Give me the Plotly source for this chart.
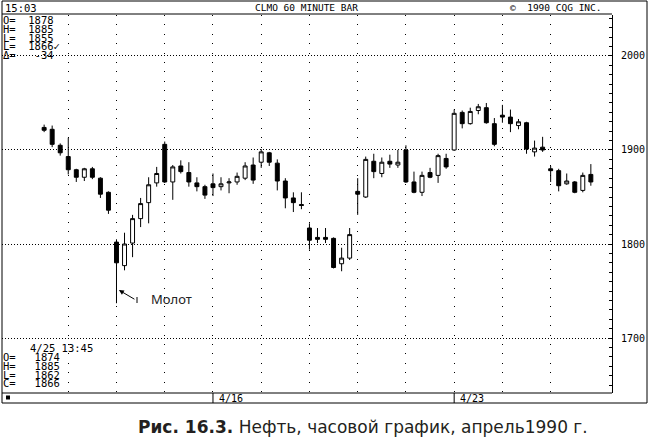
import plotly.graph_objects as go

# ---- data (hourly bars, April 1990 crude oil) ----
opens  = [1924,1922,1905,1893,1879,1871,1880,1870,1855,1802,1777,1801,1827,1844,1865,1906,1866,1883,1876,1865,
          1861,1864,1861,1865,1866,1870,1884,1887,1897,1886,1867,1849,1842,1817,1807,1807,1806,1779,1785,1856,
          1850,1888,1875,1888,1884,1900,1866,1855,1876,1873,1891,1900,1940,1928,1942,1945,1928,1937,1935,1926,
          1929,1898,1903,1880,1878,1864,1866,1857,1874]
highs  = [1927,1926,1907,1913,1880,1881,1882,1871,1856,1805,1812,1831,1849,1871,1882,1909,1884,1889,1887,1871,
          1863,1875,1871,1870,1876,1887,1892,1901,1898,1890,1870,1855,1855,1822,1817,1817,1807,1796,1817,1870,
          1893,1896,1892,1895,1900,1905,1877,1877,1881,1896,1896,1943,1942,1945,1949,1950,1934,1948,1943,1933,
          1930,1910,1914,1883,1880,1875,1867,1876,1885]
lows   = [1919,1903,1894,1874,1866,1867,1869,1849,1832,1737,1772,1786,1818,1822,1861,1865,1847,1875,1861,1856,
          1848,1851,1857,1854,1863,1868,1864,1881,1883,1857,1838,1834,1837,1794,1801,1801,1774,1771,1783,1831,
          1849,1870,1871,1881,1881,1865,1854,1851,1870,1865,1880,1899,1923,1927,1938,1928,1904,1929,1919,1922,
          1896,1893,1898,1866,1856,1863,1854,1855,1862]
closes = [1921,1906,1897,1879,1871,1880,1871,1853,1836,1780,1800,1827,1843,1863,1875,1866,1882,1877,1866,1861,
          1852,1860,1864,1866,1872,1883,1868,1898,1887,1867,1849,1844,1841,1804,1805,1805,1775,1785,1810,1853,
          1890,1877,1887,1885,1887,1866,1855,1873,1871,1894,1882,1939,1928,1941,1946,1929,1906,1935,1928,1930,
          1901,1902,1900,1878,1862,1867,1855,1873,1866]
first_slot = 3            # first bar is the 4th hourly slot of 4/9
bars_per_day = 6
price_ticks = [1700, 1800, 1900, 2000]
date_labels = ["4/16", "4/23"]
date_slots = [24, 54]
top_lines = ["O=  1878", "H=  1885", "L=  1855", "L=  1866\u2713", "\u0394=   -34"]
bottom_lines = ["O=   1874", "H=   1885", "L=   1862", "C=   1866"]

slots = list(range(first_slot, first_slot + len(opens)))

W, H = 650, 439
L, R, T, B = 2, 38, 15, 46
def px(x):
    return (x - L) / (W - L - R)
def py(y):
    return (H - B - y) / (H - T - B)

fig = go.Figure()
fig.add_trace(go.Candlestick(
    x=slots, open=opens, high=highs, low=lows, close=closes,
    increasing=dict(line=dict(color="black", width=1), fillcolor="white"),
    decreasing=dict(line=dict(color="black", width=1), fillcolor="black"),
    whiskerwidth=0, showlegend=False, hoverinfo="skip"))

mono = "DejaVu Sans Mono"
fig.update_layout(
    template="none",
    width=W, height=H, margin=dict(l=L, r=R, t=T, b=B, autoexpand=False),
    paper_bgcolor="white", plot_bgcolor="white",
    showlegend=False, hovermode=False,
    xaxis=dict(range=[-2.24, 73.63], rangeslider=dict(visible=False), automargin=False,
               tickmode="array", tickvals=list(range(6, 67, bars_per_day)),
               showticklabels=False, ticks="", showgrid=True, gridcolor="black",
               gridwidth=1, griddash="1px,8.4px", zeroline=False, showline=False),
    yaxis=dict(range=[1641.5, 2043.6], side="right", tickmode="array", tickvals=price_ticks,
               automargin=False,
               showgrid=True, gridcolor="black", gridwidth=1, griddash="1px,2px",
               ticks="inside", ticklen=3, tickcolor="black",
               minor=dict(dtick=10, tick0=1700, ticks="inside", ticklen=3, tickcolor="black", showgrid=False),
               showline=True, linecolor="black", linewidth=1, zeroline=False,
               tickfont=dict(family=mono, size=10, color="black"), ticklabelstandoff=6),
)

shapes = []
line = dict(color="black", width=1)
# outer frame
shapes.append(dict(type="rect", xref="paper", yref="paper", x0=px(2), x1=px(647), y0=py(1), y1=py(403), line=line))
# header separator
shapes.append(dict(type="line", xref="paper", yref="paper", x0=px(2), x1=px(612), y0=py(14), y1=py(14), line=line))
# bottom of plot / date strip
shapes.append(dict(type="line", xref="paper", yref="paper", x0=px(2), x1=px(612), y0=py(393), y1=py(393), line=line))
for s in date_slots:
    shapes.append(dict(type="line", xref="x", yref="paper", x0=s, x1=s, y0=py(393), y1=py(403), line=line))
# small square marker in date strip
shapes.append(dict(type="rect", xref="paper", yref="paper", x0=px(6), x1=px(10), y0=py(395.5), y1=py(399.5),
                   line=dict(width=0), fillcolor="black"))
# little tick at arrow tail
shapes.append(dict(type="line", xref="paper", yref="paper", x0=px(137), x1=px(137), y0=py(297), y1=py(303), line=line))
fig.update_layout(shapes=shapes)

ann = []
def txt(x, y, s, size=10, family=mono, anchor="left", color="black"):
    ann.append(dict(xref="paper", yref="paper", x=px(x), y=py(y), text=s, showarrow=False,
                    xanchor=anchor, yanchor="middle", font=dict(family=family, size=size, color=color)))

txt(3, 7.5, "15:03", size=10.5)
txt(306, 7, "CLMO 60 MINUTE BAR", size=9.5, anchor="center")
txt(556, 7, "\u00a9  1990 CQG INC.", size=9.5, anchor="center")
for i, s in enumerate(top_lines):
    txt(1, 20 + i * 8.75, s, size=10.5)
txt(28, 348, "4/25 13:45", size=10.5)
for i, s in enumerate(bottom_lines):
    txt(1, 357 + i * 8.75, s, size=10.5)
for lab, s in zip(date_labels, date_slots):
    ann.append(dict(xref="x", yref="paper", x=s, y=py(398), text=lab, showarrow=False,
                    xanchor="left", xshift=4, yanchor="middle", font=dict(family=mono, size=10, color="black")))
# hammer annotation
ann.append(dict(xref="x", yref="y", x=12.3, y=1751, text="", showarrow=True, arrowhead=2, arrowsize=1,
                arrowwidth=1, arrowcolor="black", ax=17, ay=10))
txt(149, 299, "Молот", size=13, family="Noto Sans", color="#222")
# caption
txt(136, 427, "<b>Рис. 16.3.</b> Нефть, часовой график, апрель1990 г.", size=17, family="DejaVu Sans",
    anchor="left", color="#231f20")
fig.update_layout(annotations=ann)

fig.write_html("out.html", config={"displayModeBar": False, "staticPlot": True},
               post_script="document.body.style.margin='0';")
